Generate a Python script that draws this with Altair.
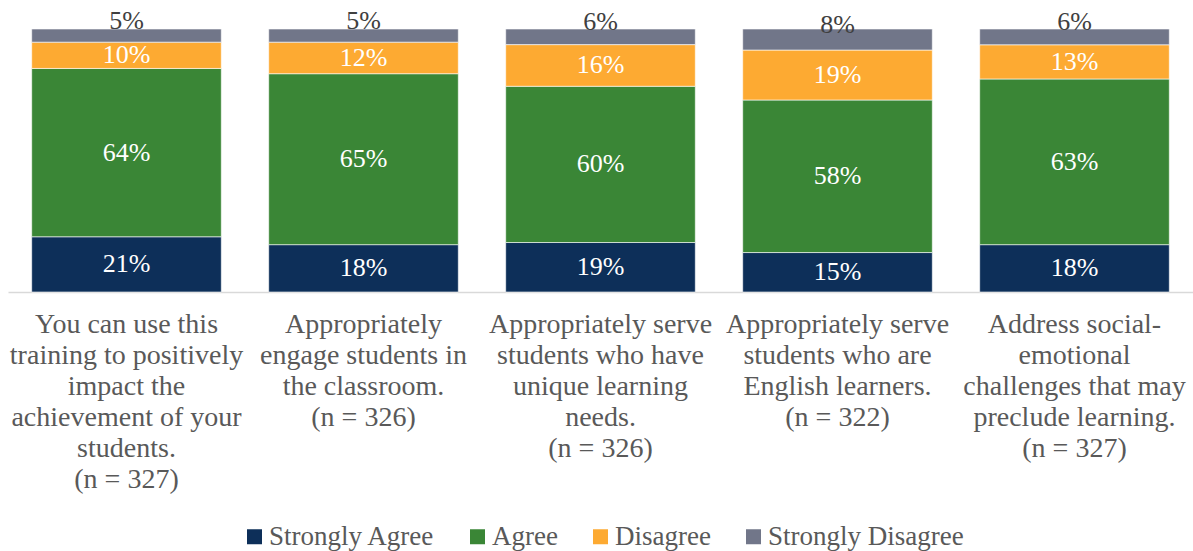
import altair as alt
import pandas as pd

categories = [
    "You can use this|training to positively|impact the|achievement of your|students.|(n = 327)",
    "Appropriately|engage students in|the classroom.|(n = 326)",
    "Appropriately serve|students who have|unique learning|needs.|(n = 326)",
    "Appropriately serve|students who are|English learners.|(n = 322)",
    "Address social-|emotional|challenges that may|preclude learning.|(n = 327)",
]
series = ["Strongly Agree", "Agree", "Disagree", "Strongly Disagree"]
strongly_agree = [21, 18, 19, 15, 18]
agree = [64, 65, 60, 58, 63]
disagree = [10, 12, 16, 19, 13]
strongly_disagree = [5, 5, 6, 8, 6]
colors = ["#0d2f59", "#3a8636", "#fdaa32", "#717689"]

rows = []
for s_i, (name, vals) in enumerate(zip(series, [strongly_agree, agree, disagree, strongly_disagree])):
    for c_i, cat in enumerate(categories):
        rows.append({"cat": cat, "series": name, "idx": s_i, "value": vals[c_i],
                     "label": f"{vals[c_i]}%"})
df = pd.DataFrame(rows)

FONT = "Liberation Serif"

base = alt.Chart(df).transform_stack(
    stack="value", groupby=["cat"], as_=["v0", "v1"], offset="normalize",
    sort=[alt.SortField("idx", order="ascending")]
).transform_calculate(mid="(datum.v0 + datum.v1) / 2")

x_enc = alt.X("cat:N", sort=categories, title=None,
              scale=alt.Scale(paddingInner=0.2, paddingOuter=0.1),
              axis=alt.Axis(labelExpr="split(datum.label, '|')", labelAngle=0,
                            labelFont=FONT, labelFontSize=28, labelColor="#595959",
                            labelLineHeight=31, labelPadding=18, ticks=False,
                            domainColor="#d9d9d9", domainWidth=1.5,
                            labelLimit=400, labelOverlap=False, labelBaseline="top"))

y_scale = alt.Scale(domain=[0, 1], nice=False)

bars = base.mark_bar(stroke="white", strokeWidth=0.6).encode(
    x=x_enc,
    y=alt.Y("v0:Q", scale=y_scale, axis=None),
    y2="v1:Q",
    color=alt.Color("series:N", sort=series,
                    scale=alt.Scale(domain=series, range=colors),
                    legend=alt.Legend(title=None, orient="none", direction="horizontal",
                                      legendX=233, legendY=494, padding=0,
                                      symbolType="square", symbolSize=225,
                                      symbolStrokeWidth=0, labelFont=FONT,
                                      labelFontSize=27, labelColor="#595959",
                                      labelOffset=1, columnPadding=29,
                                      labelLimit=400)),
)

labels_inside = base.transform_filter("datum.idx < 3").mark_text(
    font=FONT, fontSize=26, color="white", baseline="middle"
).encode(x=alt.X("cat:N", sort=categories), y=alt.Y("mid:Q", scale=y_scale), text="label:N")

labels_top = base.transform_filter("datum.idx == 3").mark_text(
    font=FONT, fontSize=26, color="#404040", baseline="middle", dy=-15
).encode(x=alt.X("cat:N", sort=categories), y=alt.Y("mid:Q", scale=y_scale), text="label:N")

chart = alt.layer(bars, labels_inside, labels_top).properties(
    width=1185, height=263,
    autosize=alt.AutoSizeParams(type="none"),
    padding={"left": 8, "top": 29, "right": 0, "bottom": 259},
).configure_view(stroke=None)

chart.save("out.html", embed_options={"renderer": "svg", "actions": False})
